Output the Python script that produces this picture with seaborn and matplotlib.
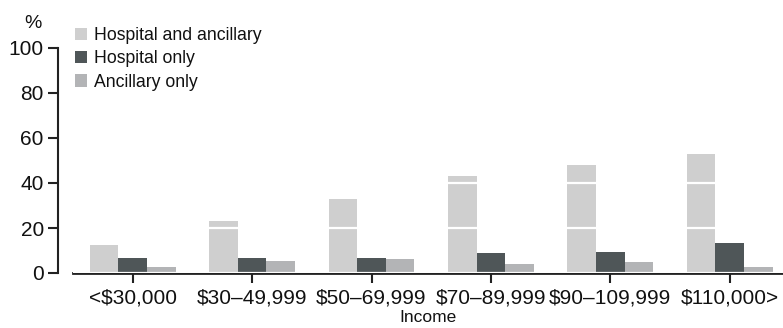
import matplotlib
matplotlib.use("Agg")
import matplotlib.pyplot as plt
import seaborn as sns
import pandas as pd

categories = ["<$30,000", "$30\u201349,999", "$50\u201369,999", "$70\u201389,999", "$90\u2013109,999", "$110,000>"]
series_names = ["Hospital and ancillary", "Hospital only", "Ancillary only"]
hosp_and_anc = [12.6, 23.2, 33.0, 43.2, 48.1, 53.0]
hosp_only = [6.8, 6.8, 6.8, 9.0, 9.5, 13.5]
anc_only = [2.8, 5.5, 6.4, 4.1, 5.0, 2.8]
y_ticks = [0, 20, 40, 60, 80, 100]
colors = ["#cfcfcf", "#4f5658", "#b3b4b6"]

rows = []
for name, vals in zip(series_names, [hosp_and_anc, hosp_only, anc_only]):
    for c, v in zip(categories, vals):
        rows.append({"Income": c, "value": v, "type": name})
df = pd.DataFrame(rows)

sns.set_style("white")
plt.rcParams["font.family"] = ["Liberation Sans", "DejaVu Sans"]

W, H = 783, 328
fig = plt.figure(figsize=(W / 100, H / 100), dpi=100)
left_px, right_px, top_px, bot_px = 73, 783, 48, 273
ax = fig.add_axes([left_px / W, (H - bot_px) / H, (right_px - left_px) / W, (bot_px - top_px) / H])

sns.barplot(data=df, x="Income", y="value", hue="type", order=categories,
            hue_order=series_names, palette=colors, saturation=1, width=0.72,
            ax=ax, errorbar=None, linewidth=0)

for s in ["top", "right"]:
    ax.spines[s].set_visible(False)
ax.spines["left"].set_position(("outward", 11))
ax.spines["left"].set_color("#222222")
ax.spines["left"].set_linewidth(1.5)
ax.spines["bottom"].set_color("#222222")
ax.spines["bottom"].set_linewidth(2)

ax.set_xlim(-0.5, -0.5 + (right_px - left_px) / 119.4)
ax.set_ylim(0, 100)
ax.set_yticks(y_ticks)
ax.set_yticklabels([str(t) for t in y_ticks])
ax.set_xticks(range(len(categories)))
ax.set_xticklabels(categories)
ax.tick_params(axis="y", direction="out", length=7, width=1.5, color="#222222", pad=3, left=True,
               labelsize=15, labelcolor="#111111")
ax.tick_params(axis="x", direction="out", length=7, width=1.5, color="#222222", pad=4, bottom=True,
               labelsize=15, labelcolor="#111111")
ax.set_xlabel("Income", fontsize=12.5, color="#111111", labelpad=2)
ax.set_ylabel("")

ax.set_axisbelow(False)
ax.yaxis.grid(True, color="white", linewidth=1.6)
ax.xaxis.grid(False)

fig.text(33 / W, 1 - 23 / H, "%", fontsize=14, ha="center", va="center", color="#111111")

leg = ax.legend(loc="upper left", bbox_to_anchor=(75 / W, 1 - 27 / H), bbox_transform=fig.transFigure,
                frameon=False, fontsize=12.7, handlelength=0.7, handleheight=0.7,
                handletextpad=0.4, labelspacing=0.36, borderpad=0, borderaxespad=0)
for t in leg.get_texts():
    t.set_color("#111111")

fig.savefig("out.png", dpi=100)
